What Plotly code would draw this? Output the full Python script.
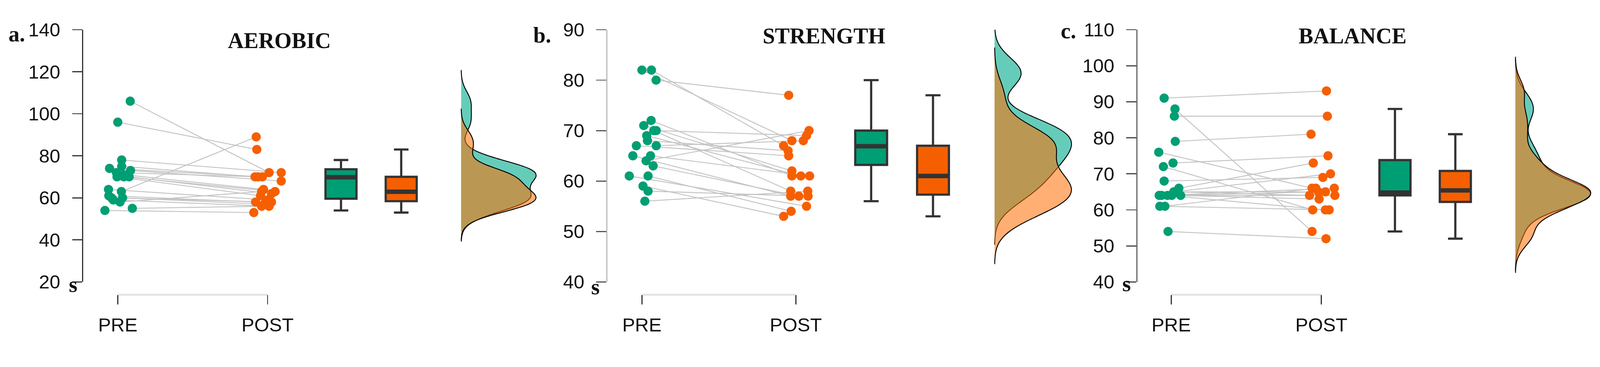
import numpy as np
import plotly.graph_objects as go

W, H = 4347, 939

# ---------------- data ----------------
groups = ["PRE", "POST"]
titles = ["AEROBIC", "STRENGTH", "BALANCE"]
letters = ["a.", "b.", "c."]
unit = "s"

# paired values (same participant at the same index)
aerobic_pre = [106, 96, 78, 75, 74, 73, 72, 71, 70, 70, 70, 64, 63, 61, 60, 60, 59, 58, 55, 54]
aerobic_post = [72, 83, 72, 70, 70, 68, 70, 64, 63, 62, 61, 59, 89, 58, 58, 57, 56, 63, 56, 53]
strength_pre = [82, 82, 80, 72, 71, 70, 70, 69, 68, 67, 67, 65, 65, 64, 63, 61, 61, 59, 58, 56]
strength_post = [68, 67, 77, 61, 62, 69, 58, 61, 66, 65, 68, 57, 61, 70, 57, 55, 54, 53, 57, 58]
balance_pre = [91, 88, 86, 79, 76, 73, 72, 68, 66, 65, 65, 65, 64, 64, 64, 64, 64, 61, 61, 54]
balance_post = [93, 54, 86, 81, 66, 75, 60, 69, 73, 70, 65, 64, 66, 65, 63, 64, 60, 60, 66, 52]

# box statistics: q1, median, q3, lower whisker, upper whisker
aerobic_box_pre = [59.6, 69.8, 73.6, 54, 78]
aerobic_box_post = [58.4, 62.9, 70.0, 53, 83]
strength_box_pre = [63.2, 66.9, 70.0, 56, 80]
strength_box_post = [57.3, 61.0, 67.0, 53, 77]
balance_box_pre = [64.0, 64.8, 73.8, 54, 88]
balance_box_post = [62.2, 65.4, 70.8, 52, 81]

# y-axis ticks
aerobic_ticks = [20, 40, 60, 80, 100, 120, 140]
strength_ticks = [40, 50, 60, 70, 80, 90]
balance_ticks = [40, 50, 60, 70, 80, 90, 100, 110]

# horizontal jitter of the dots (category units)
aerobic_jit_pre = [0.083, 0.0, 0.026, 0.026, -0.055, 0.085, -0.009, 0.04, 0.04, 0.076,
                   -0.005, -0.062, 0.024, -0.06, -0.042, 0.032, -0.03, 0.015, 0.097, -0.086]
aerobic_jit_post = [0.01, -0.072, 0.091, -0.084, -0.035, 0.091, -0.064, -0.027, 0.05, 0.026,
                    -0.047, 0.0, -0.076, -0.08, 0.026, -0.023, 0.01, -0.04, -0.04, -0.092]
strength_jit_pre = [0.0, 0.062, 0.092, 0.06, 0.012, 0.093, 0.077, 0.031, 0.036, -0.036,
                    0.093, -0.059, 0.056, 0.027, 0.073, -0.082, 0.04, 0.007, 0.04, 0.019]
strength_jit_post = [-0.025, -0.079, -0.046, -0.025, -0.025, 0.07, -0.033, 0.033, -0.05, -0.046,
                     0.049, -0.033, 0.09, 0.086, 0.02, 0.07, -0.03, -0.079, 0.08, 0.078]
balance_jit_pre = [-0.047, 0.025, 0.021, 0.027, -0.083, 0.012, -0.052, -0.047, 0.051, 0.017,
                   0.03, 0.04, -0.064, 0.004, 0.063, -0.08, -0.025, -0.076, -0.042, -0.021]
balance_jit_post = [0.034, -0.062, 0.04, -0.069, -0.062, 0.044, -0.058, 0.01, -0.054, 0.061,
                    0.027, -0.079, 0.086, -0.02, -0.015, 0.09, 0.027, 0.052, -0.037, 0.031]

# ---------------- style ----------------
TEAL = "#009E73"
ORANGE = "#F65F00"
VIOLIN_PRE = "rgba(0,170,140,0.6)"
VIOLIN_POST = "rgba(255,110,0,0.55)"
BOX_LINE = "#333333"
SANS = "Liberation Sans, Arial, sans-serif"
SERIF = "Liberation Serif, Times New Roman, serif"

BOX_X = [2.49, 2.892]
BOX_W = 0.207
VIOLIN_X = 3.292
VIOLIN_W = 1.0
X_RIGHT = 3.84

Y_TOP_PX, Y_BOT_PX, XAXIS_PX = 55, 785, 822

panels = [
    dict(pre=aerobic_pre, post=aerobic_post, bpre=aerobic_box_pre, bpost=aerobic_box_post,
         ticks=aerobic_ticks, jpre=aerobic_jit_pre, jpost=aerobic_jit_post,
         left=226, xpre=320, xpost=727, line="#333333", tick="#333333",
         title_xy=(759, 87), letter_xy=(45, 68), s_xy=(198, 793)),
    dict(pre=strength_pre, post=strength_post, bpre=strength_box_pre, bpost=strength_box_post,
         ticks=strength_ticks, jpre=strength_jit_pre, jpost=strength_jit_post,
         left=1650, xpre=1744, xpost=2162, line="#bbbbbb", tick="#555555",
         title_xy=(2238, 74), letter_xy=(1473, 71), s_xy=(1617, 799)),
    dict(pre=balance_pre, post=balance_post, bpre=balance_box_pre, bpost=balance_box_post,
         ticks=balance_ticks, jpre=balance_jit_pre, jpost=balance_jit_post,
         left=3090, xpre=3182, xpost=3590, line="#666666", tick="#444444",
         title_xy=(3674, 74), letter_xy=(2903, 59), s_xy=(3060, 791)),
]


def nrd0(v):
    v = np.asarray(v, float)
    sd = v.std(ddof=1)
    iqr = np.percentile(v, 75) - np.percentile(v, 25)
    lo = min(sd, iqr / 1.34) if iqr > 0 else sd
    return 0.9 * lo * len(v) ** (-0.2)


fig = go.Figure()
layout = {}
annotations = []
shapes = []

for i, p in enumerate(panels):
    n = i + 1
    xa = "x" if n == 1 else f"x{n}"
    ya = "y" if n == 1 else f"y{n}"

    xs_pre = [1 + j for j in p["jpre"]]
    xs_post = [2 + j for j in p["jpost"]]

    # connecting lines
    lx, ly = [], []
    for a, b, c, d in zip(xs_pre, p["pre"], xs_post, p["post"]):
        lx += [a, c, None]
        ly += [b, d, None]
    fig.add_trace(go.Scatter(x=lx, y=ly, mode="lines", line=dict(color="#c4c4c4", width=2.5),
                             xaxis=xa, yaxis=ya, hoverinfo="skip", showlegend=False))

    # half violins (POST drawn over PRE)
    for vals, fill in [(p["pre"], VIOLIN_PRE), (p["post"], VIOLIN_POST)]:
        bw = nrd0(vals)
        fig.add_trace(go.Violin(
            y=vals, x0=VIOLIN_X, side="positive", width=VIOLIN_W, bandwidth=bw,
            spanmode="manual", span=[min(vals) - 3 * bw, max(vals) + 3 * bw],
            fillcolor=fill, line=dict(color="black", width=2.5), points=False,
            scalegroup=f"g{n}", scalemode="count", box_visible=False, meanline_visible=False,
            xaxis=xa, yaxis=ya, showlegend=False, hoverinfo="skip"))

    # boxes
    for bx, st, col in [(BOX_X[0], p["bpre"], TEAL), (BOX_X[1], p["bpost"], ORANGE)]:
        q1, med, q3, lo, hi = st
        fig.add_trace(go.Box(
            x=[bx], q1=[q1], median=[med], q3=[q3], lowerfence=[lo], upperfence=[hi],
            orientation="v", width=BOX_W, whiskerwidth=0.47, fillcolor=col,
            line=dict(color=BOX_LINE, width=6), boxpoints=False,
            xaxis=xa, yaxis=ya, showlegend=False, hoverinfo="skip"))
        fig.add_trace(go.Scatter(
            x=[bx - BOX_W / 2, bx + BOX_W / 2], y=[med, med], mode="lines",
            line=dict(color=BOX_LINE, width=12), xaxis=xa, yaxis=ya,
            showlegend=False, hoverinfo="skip"))

    # dots
    fig.add_trace(go.Scatter(x=xs_pre, y=p["pre"], mode="markers",
                             marker=dict(size=25, color=TEAL), xaxis=xa, yaxis=ya,
                             showlegend=False, hoverinfo="skip"))
    fig.add_trace(go.Scatter(x=xs_post, y=p["post"], mode="markers",
                             marker=dict(size=25, color=ORANGE), xaxis=xa, yaxis=ya,
                             showlegend=False, hoverinfo="skip"))

    # axes
    ppu = p["xpost"] - p["xpre"]
    r0 = 1 - (p["xpre"] - p["left"]) / ppu
    right_px = p["left"] + (X_RIGHT - r0) * ppu
    xkey = "xaxis" if n == 1 else f"xaxis{n}"
    ykey = "yaxis" if n == 1 else f"yaxis{n}"
    layout[xkey] = dict(
        domain=[p["left"] / W, min(right_px / W, 1.0)], range=[r0, X_RIGHT],
        anchor="free", position=1 - XAXIS_PX / H,
        tickvals=[1, 2], ticktext=groups, ticks="outside", ticklen=26, tickwidth=3,
        tickcolor="#333333", showline=False, showgrid=False, zeroline=False,
        tickfont=dict(family=SANS, size=52, color="#111111"), ticklabelstandoff=10,
        fixedrange=True)
    layout[ykey] = dict(
        domain=[1 - Y_BOT_PX / H, 1 - Y_TOP_PX / H], range=[p["ticks"][0], p["ticks"][-1]],
        tickvals=p["ticks"], anchor=xa, showline=True, linecolor=p["line"], linewidth=3,
        ticks="outside", ticklen=27, tickwidth=3, tickcolor=p["tick"],
        showgrid=False, zeroline=False, ticklabelstandoff=22,
        tickfont=dict(family=SANS, size=52, color="#111111"), fixedrange=True)

    # light x-axis line between PRE and POST
    shapes.append(dict(type="line", xref=xa, yref="paper", x0=1, x1=2,
                       y0=1 - XAXIS_PX / H, y1=1 - XAXIS_PX / H,
                       line=dict(color="#e2e2e2", width=5), layer="below"))

    tx, ty = p["title_xy"]
    annotations.append(dict(text=f"<b>{titles[i]}</b>", x=tx / W, y=1 - ty / H,
                            xref="paper", yref="paper", xanchor="center", yanchor="middle",
                            showarrow=False, font=dict(family=SERIF, size=60, color="#111111")))
    lxp, lyp = p["letter_xy"]
    annotations.append(dict(text=f"<b>{letters[i]}</b>", x=lxp / W, y=1 - lyp / H,
                            xref="paper", yref="paper", xanchor="center", yanchor="middle",
                            showarrow=False, font=dict(family=SERIF, size=60, color="#111111")))
    sx, sy = p["s_xy"]
    annotations.append(dict(text=f"<b>{unit}</b>", x=sx / W, y=1 - sy / H,
                            xref="paper", yref="paper", xanchor="center", yanchor="middle",
                            showarrow=False, font=dict(family=SERIF, size=60, color="#111111")))

fig.update_layout(
    width=W, height=H, margin=dict(l=0, r=0, t=0, b=0),
    paper_bgcolor="white", plot_bgcolor="white",
    violinmode="overlay", boxmode="overlay",
    showlegend=False, annotations=annotations, shapes=shapes, **layout)

# scale the fixed-size figure so that it always fits the browser viewport
fit_js = (
    "var gd=document.getElementById('{plot_id}');"
    "document.documentElement.style.margin='0';document.body.style.margin='0';"
    "document.documentElement.style.overflow='hidden';document.body.style.overflow='hidden';"
    "function fitFig(){var s=Math.min(window.innerWidth/%d, window.innerHeight/%d);"
    "gd.style.transformOrigin='0 0';gd.style.transform='scale('+s+')';}"
    "fitFig();window.addEventListener('resize', fitFig);" % (W, H)
)
fig.write_html("out.html", config={"displayModeBar": False}, post_script=fit_js)
